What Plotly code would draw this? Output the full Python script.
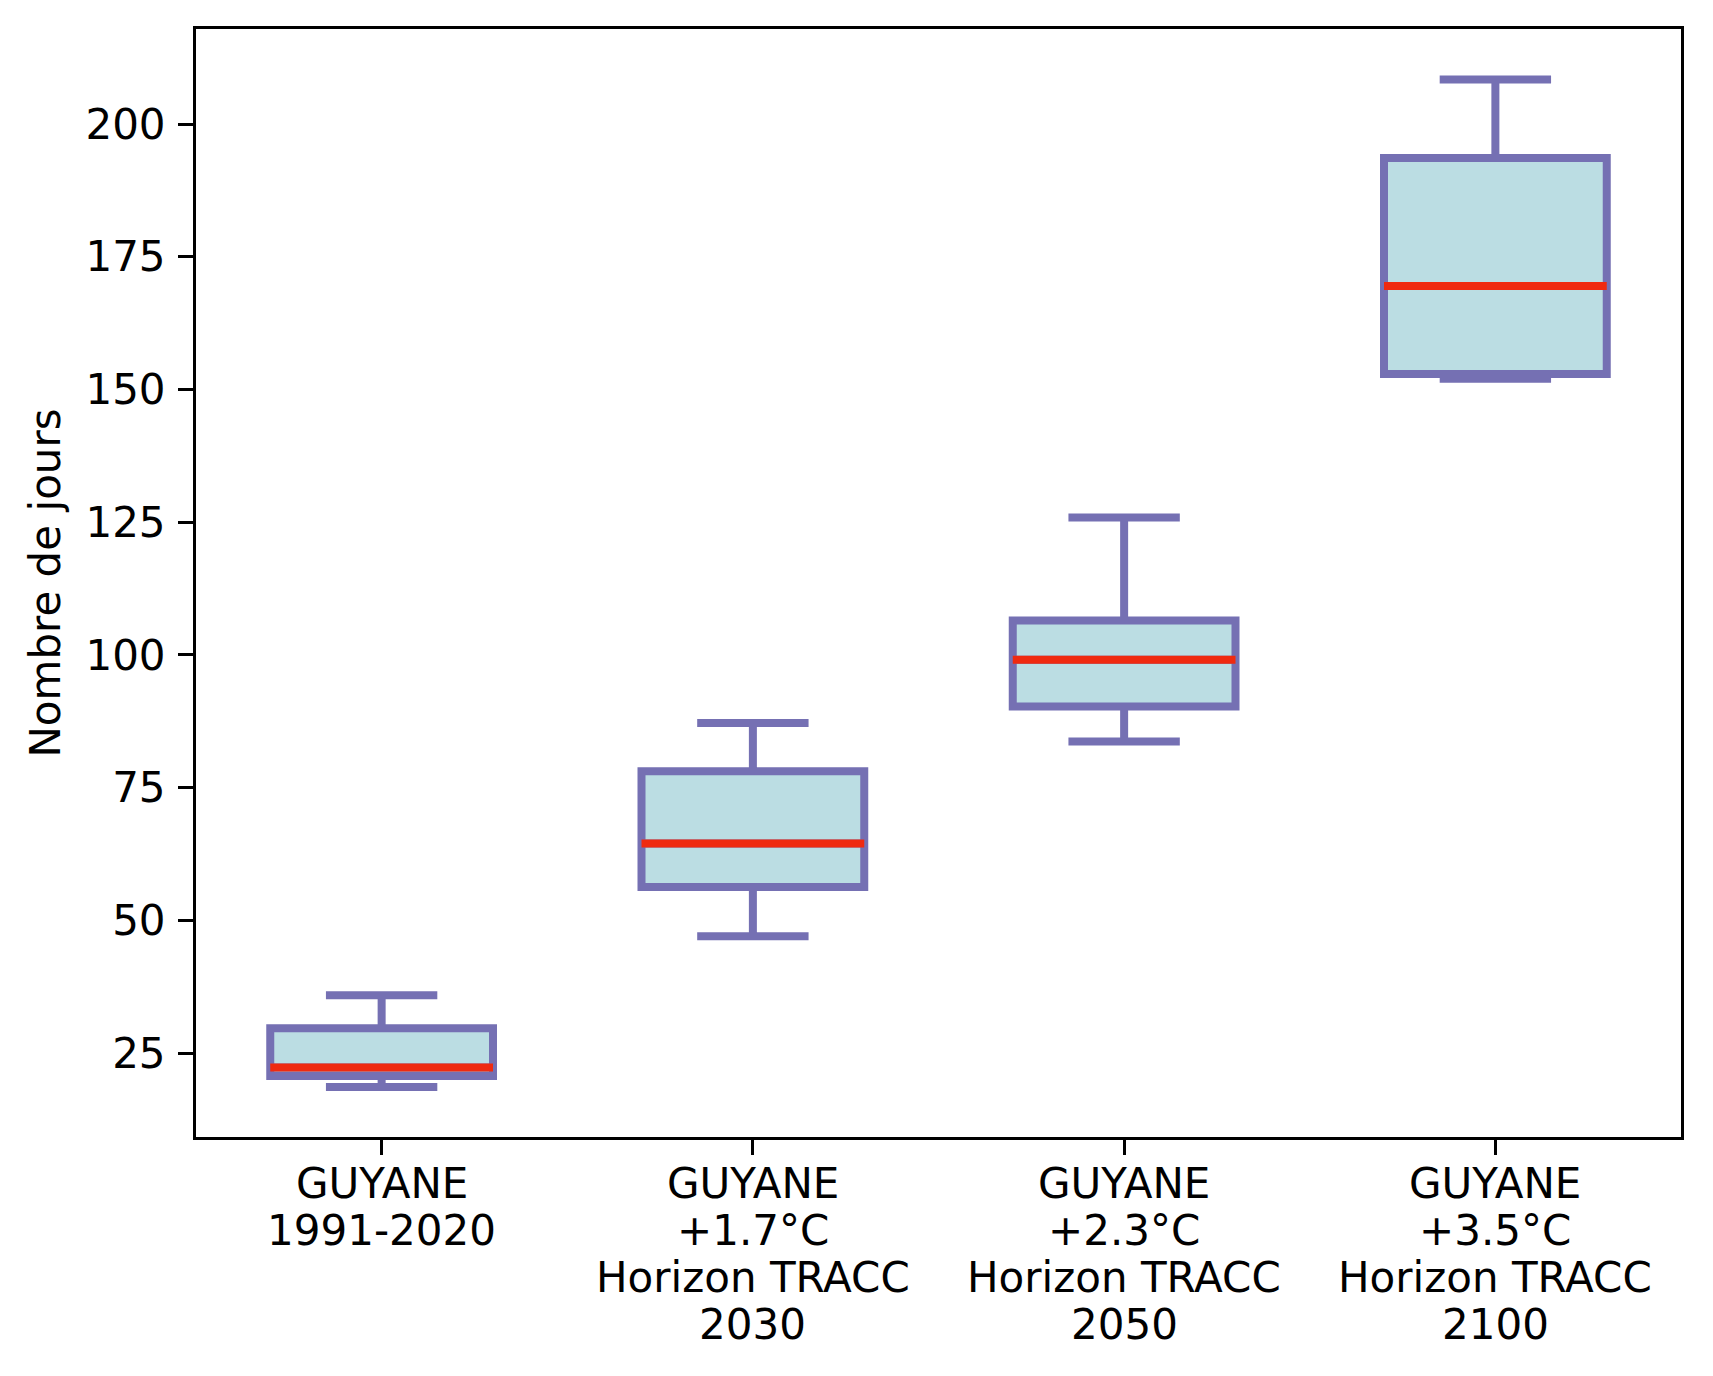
import plotly.graph_objects as go

category_lines = [["GUYANE", "1991-2020"],
                  ["GUYANE", "+1.7°C", "Horizon TRACC", "2030"],
                  ["GUYANE", "+2.3°C", "Horizon TRACC", "2050"],
                  ["GUYANE", "+3.5°C", "Horizon TRACC", "2100"]]
positions = [1, 2, 3, 4]
lower_whisker = [18.6, 47.0, 83.7, 152.0]
q1_vals = [20.7, 56.3, 90.3, 152.9]
median_vals = [22.3, 64.5, 99.1, 169.5]
q3_vals = [29.7, 78.1, 106.5, 193.6]
upper_whisker = [35.9, 87.2, 125.9, 208.4]
y_ticks = [25, 50, 75, 100, 125, 150, 175, 200]

BOX_WIDTH = 0.6
EDGE = "#7570b3"
FILL = "#bbdde3"
MED = "#ef2a10"
FONT = "DejaVu Sans"
FS = 42
LINE_GAP = 47      # px between lines of x tick labels
FIRST_LINE = 46    # px from axis to first line centre

fig = go.Figure()
fig.add_trace(go.Box(
    x=positions, q1=q1_vals, median=median_vals, q3=q3_vals,
    lowerfence=lower_whisker, upperfence=upper_whisker,
    width=BOX_WIDTH, whiskerwidth=0.5,
    fillcolor=FILL, line=dict(color=EDGE, width=8),
    boxpoints=False, showlegend=False, hoverinfo="skip",
))

mx, my = [], []
for p, m in zip(positions, median_vals):
    mx += [p - BOX_WIDTH / 2, p + BOX_WIDTH / 2, None]
    my += [m, m, None]
fig.add_trace(go.Scatter(x=mx, y=my, mode="lines",
                         line=dict(color=MED, width=8),
                         showlegend=False, hoverinfo="skip"))

# multi-line category labels (matplotlib-like line spacing)
for p, lines in zip(positions, category_lines):
    for k, txt in enumerate(lines):
        fig.add_annotation(x=p, xref="x", y=0, yref="paper", text=txt,
                           showarrow=False, xanchor="center", yanchor="middle",
                           yshift=-(FIRST_LINE + k * LINE_GAP),
                           font=dict(family=FONT, size=FS, color="black"))

axis_common = dict(showline=True, linecolor="black", linewidth=3, mirror=True,
                   showgrid=False, zeroline=False, ticks="outside", ticklen=15,
                   tickwidth=3, tickcolor="black",
                   tickfont=dict(family=FONT, size=FS, color="black"))

fig.update_xaxes(range=[0.5, 4.5], tickmode="array", tickvals=positions,
                 showticklabels=False, **axis_common)
fig.update_yaxes(range=[9.2, 217.9], tickmode="array", tickvals=y_ticks,
                 ticklabelstandoff=4,
                 title=dict(text="Nombre de jours", standoff=12,
                            font=dict(family=FONT, size=FS, color="black")),
                 **axis_common)

# page body has an 8px margin: shrink the figure so it sits in the window
fig.update_layout(width=1705, height=1368,
                  margin=dict(l=188, r=32, t=21, b=239, autoexpand=False),
                  plot_bgcolor="white", paper_bgcolor="white",
                  font=dict(family=FONT, size=FS, color="black"))

fig.write_html("out.html")
